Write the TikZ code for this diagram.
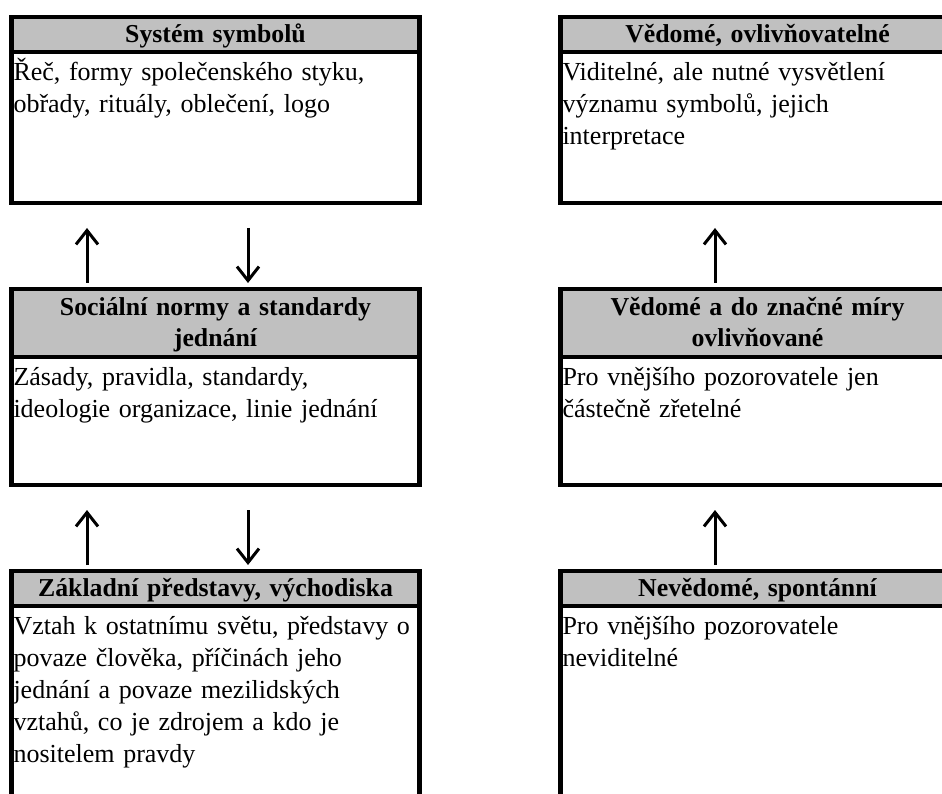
\documentclass[tikz,border=0pt]{standalone}
\usepackage{fontspec}
\setmainfont{Liberation Serif}
\usetikzlibrary{arrows.meta}
\definecolor{headgray}{RGB}{192,192,192}
\tikzset{
	head/.style={draw, line width=4.5pt, fill=headgray, anchor=north west,
		inner xsep=2pt, inner ysep=2pt, outer sep=0pt, align=center,
		minimum height=35pt, text height=22pt, text depth=6pt,
		font=\fontsize{25.8pt}{32pt}\selectfont\bfseries},
	twoline/.style={minimum height=68pt, text depth=38pt},
	body/.style={draw, line width=4.5pt, anchor=north,
		inner xsep=2pt, inner ysep=0pt, outer sep=0pt, align=left,
		text height=28.5pt, font=\fontsize{26pt}{32pt}\selectfont},
	leftcol/.style={text width=404pt},
	rightcol/.style={text width=390pt},
	arr/.style={line width=3pt, -{Straight Barb[length=14pt, width=22pt]}}
}
\begin{document}
\begin{tikzpicture}[x=1pt, y=-1pt]
	\useasboundingbox (0, 0) rectangle (942, 794);
	% Left column.
	\node[head, leftcol] (symh) at (11.5, 17) {Systém symbolů};
	\node[body, leftcol, text depth=122.5pt] (symb) at (symh.south)
		{Řeč, formy společenského styku,\\obřady, rituály, oblečení, logo};
	\node[head, leftcol, twoline] (normh) at (11.5, 289)
		{Sociální normy a standardy\\jednání};
	\node[body, leftcol, text depth=99.5pt] (normb) at (normh.south)
		{Zásady, pravidla, standardy,\\ideologie organizace, linie jednání};
	\node[head, leftcol] (zakh) at (11.5, 571) {Základní představy, východiska};
	\node[body, leftcol, text depth=190pt] (zakb) at (zakh.south)
		{\mbox{Vztah k ostatnímu světu, představy o}\\povaze člověka, příčinách jeho\\jednání a povaze mezilidských\\vztahů, co je zdrojem a kdo je\\nositelem pravdy};
	% Right column.
	\node[head, rightcol] (vedh) at (560.5, 17) {Vědomé, ovlivňovatelné};
	\node[body, rightcol, text depth=122.5pt] (vedb) at (vedh.south)
		{Viditelné, ale nutné vysvětlení\\významu symbolů, jejich\\interpretace};
	\node[head, rightcol, twoline] (mirh) at (560.5, 289)
		{Vědomé a do značné míry\\ovlivňované};
	\node[body, rightcol, text depth=99.5pt] (mirb) at (mirh.south)
		{Pro vnějšího pozorovatele jen\\částečně zřetelné};
	\node[head, rightcol] (nevh) at (560.5, 571) {Nevědomé, spontánní};
	\node[body, rightcol, text depth=190pt] (nevb) at (nevh.south)
		{Pro vnějšího pozorovatele\\neviditelné};
	% Arrows between the levels.
	\draw[arr, shorten <=6pt, shorten >=25pt]
		([xshift=-128.5pt]normh.north) -- ([xshift=-128.5pt]symb.south);
	\draw[arr, shorten <=25pt, shorten >=6pt]
		([xshift=32.5pt]symb.south) -- ([xshift=32.5pt]normh.north);
	\draw[arr, shorten <=6pt, shorten >=25pt]
		([xshift=-128.5pt]zakh.north) -- ([xshift=-128.5pt]normb.south);
	\draw[arr, shorten <=25pt, shorten >=6pt]
		([xshift=32.5pt]normb.south) -- ([xshift=32.5pt]zakh.north);
	\draw[arr, shorten <=6pt, shorten >=25pt]
		([xshift=-42.5pt]mirh.north) -- ([xshift=-42.5pt]vedb.south);
	\draw[arr, shorten <=6pt, shorten >=25pt]
		([xshift=-42.5pt]nevh.north) -- ([xshift=-42.5pt]mirb.south);
\end{tikzpicture}
\end{document}
